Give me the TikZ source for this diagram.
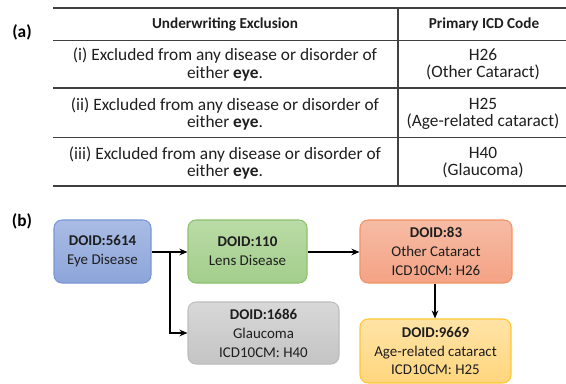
\documentclass[tikz,border=0pt]{standalone}
\usepackage{fontspec}
\setmainfont{Carlito}
\usetikzlibrary{arrows.meta}
\definecolor{txt}{HTML}{1E1E1E}
\definecolor{rulec}{HTML}{404040}
\tikzset{
  cell/.style={text=txt, align=center, inner sep=0pt, font=\fontsize{13}{12.8}\selectfont},
  head/.style={text=txt, align=center, inner sep=0pt, font=\fontsize{11.4}{13}\selectfont\bfseries},
  lab/.style={text=black, inner sep=0pt, font=\fontsize{13}{14}\selectfont\bfseries},
  box/.style={rounded corners=8*0.75pt, line width=0.8pt, align=center, text=txt,
    inner sep=0pt, font=\fontsize{11.2}{14.2}\selectfont},
  conn/.style={line width=1.3pt, black, -{Stealth[length=6pt,width=5pt]}},
  trule/.style={rulec, line width=1.1pt},
}
\begin{document}
\begin{tikzpicture}[x=0.75pt,y=-0.75pt]
\useasboundingbox (0,0) rectangle (566,384);
% ---- (a) table
\node[lab] (la) at (22,32) {(a)};
\coordinate (tl) at (53,8);
\coordinate (tr) at (566,8);
\draw[trule] (53,8) -- (566,8);
\draw[trule] (53,40.5) -- (566,40.5);
\draw[trule] (53,88) -- (566,88);
\draw[trule] (53,137.5) -- (566,137.5);
\draw[trule] (53,186) -- (566,186);
\draw[rulec, line width=0.8pt] (398,8) -- (398,186);
\node[head] (h1) at (225,24) {Underwriting Exclusion};
\node[head] (h2) at (484,24) {Primary ICD Code};
\node[cell] (r1a) at (225,64.5) {(i) Excluded from any disease or disorder of\\either \textbf{eye}.};
\node[cell] (r1b) at (483,64.5) {H26\\(Other Cataract)};
\node[cell] (r2a) at (225,114) {(ii) Excluded from any disease or disorder of\\either \textbf{eye}.};
\node[cell] (r2b) at (483,114) {H25\\(Age-related cataract)};
\node[cell] (r3a) at (225,163) {(iii) Excluded from any disease or disorder of\\either \textbf{eye}.};
\node[cell] (r3b) at (483,163) {H40\\(Glaucoma)};
% ---- (b) graph
\node[lab] (lb) at (22,221) {(b)};
\node[box, draw=blue!45!cyan!30!black!0, draw={rgb,255:red,122;green,150;blue,214},
  top color={rgb,255:red,170;green,188;blue,228}, bottom color={rgb,255:red,140;green,165;blue,218},
  minimum width=97*0.75pt, minimum height=63*0.75pt] (n1) at (102.5,251.5)
  {\textbf{DOID:5614}\\Eye Disease};
\node[box, draw={rgb,255:red,140;green,194;blue,111},
  top color={rgb,255:red,186;green,219;blue,166}, bottom color={rgb,255:red,163;green,206;blue,140},
  minimum width=119*0.75pt, minimum height=63*0.75pt] (n2) at (247.5,251.5)
  {\textbf{DOID:110}\\Lens Disease};
\node[box, draw={rgb,255:red,189;green,189;blue,189},
  top color={rgb,255:red,216;green,216;blue,216}, bottom color={rgb,255:red,196;green,196;blue,196},
  minimum width=151*0.75pt, minimum height=62*0.75pt] (n3) at (263.5,333)
  {\textbf{DOID:1686}\\Glaucoma\\ICD10CM: H40};
\node[box, draw={rgb,255:red,242;green,148;blue,102},
  top color={rgb,255:red,246;green,188;blue,164}, bottom color={rgb,255:red,244;green,162;blue,133},
  minimum width=152*0.75pt, minimum height=63*0.75pt] (n4) at (436,251.5)
  {\textbf{DOID:83}\\Other Cataract\\ICD10CM: H26};
\node[box, draw={rgb,255:red,255;green,199;blue,53},
  top color={rgb,255:red,255;green,227;blue,166}, bottom color={rgb,255:red,255;green,214;blue,126},
  minimum width=151*0.75pt, minimum height=64*0.75pt] (n5) at (435.5,351)
  {\textbf{DOID:9669}\\Age-related cataract\\ICD10CM: H25};
\coordinate (br) at (170,252);
\draw[conn] (n1.east |- br) -- (n2.west |- br);
\draw[conn] (br) |- (n3.west);
\draw[conn] (n2.east |- br) -- (n4.west |- br);
\draw[conn] (n4.south -| 435,0) -- (n5.north -| 435,0);
\end{tikzpicture}
\end{document}
